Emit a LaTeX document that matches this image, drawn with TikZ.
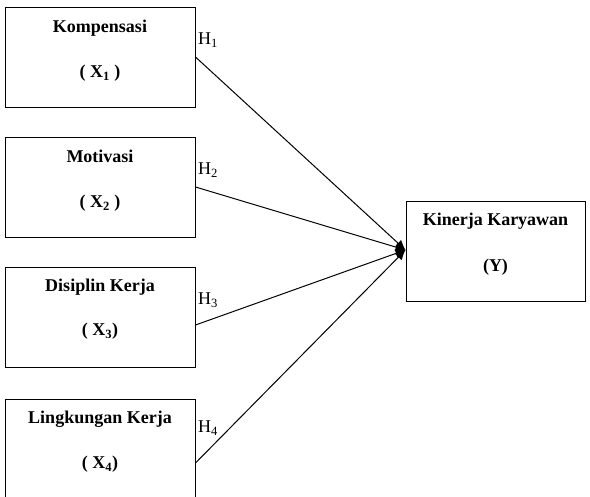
\documentclass[tikz,border=0pt]{standalone}
\usepackage{fontspec}
\setmainfont{Liberation Serif}
\usetikzlibrary{arrows.meta}

\begin{document}
\begin{tikzpicture}[
  x=1pt, y=-1pt,
  vbox/.style={rectangle, draw=black, line width=1pt, minimum width=190pt, minimum height=100pt, inner sep=0pt},
  vtext/.style={font=\fontsize{18}{20}\selectfont\bfseries, anchor=base, inner sep=0pt},
  hlabel/.style={font=\fontsize{18}{20}\selectfont, anchor=base west, inner sep=0pt},
  edge/.style={draw=black, line width=1pt, -{Latex[length=10pt,width=9pt]}}
]
  \useasboundingbox (0,0) rectangle (590,497);
  \clip (0,0) rectangle (590,497);

  % Variabel bebas
  \node[vbox] (x1) at (100,58) {};
  \node[vbox] (x2) at (100,188) {};
  \node[vbox] (x3) at (100,317.5) {};
  \node[vbox] (x4) at (100,450) {};

  \node[vtext] (t1) at ([yshift=-25pt]x1.north) {Kompensasi};
  \node[vtext] (s1) at ([yshift=-70pt]x1.north) {( X\textsubscript{1} )};
  \node[vtext] (t2) at ([yshift=-25pt]x2.north) {Motivasi};
  \node[vtext] (s2) at ([yshift=-70pt]x2.north) {( X\textsubscript{2} )};
  \node[vtext] (t3) at ([yshift=-25pt]x3.north) {Disiplin Kerja};
  \node[vtext] (s3) at ([yshift=-69pt]x3.north) {( X\textsubscript{3})};
  \node[vtext] (t4) at ([yshift=-24pt]x4.north) {Lingkungan Kerja};
  \node[vtext] (s4) at ([yshift=-69pt]x4.north) {( X\textsubscript{4})};

  % Variabel terikat
  \node[vbox, minimum width=179pt] (y) at (495.5,252) {};
  \node[vtext] (ty) at ([yshift=-24pt]y.north) {Kinerja Karyawan};
  \node[vtext] (sy) at ([yshift=-70pt]y.north) {(Y)};

  % Hipotesis
  \node[hlabel] (h1) at (198,45) {H\textsubscript{1}};
  \node[hlabel] (h2) at (198,175) {H\textsubscript{2}};
  \node[hlabel] (h3) at (198,305) {H\textsubscript{3}};
  \node[hlabel] (h4) at (198,433) {H\textsubscript{4}};

  % Pengaruh ke Y
  \draw[edge] ([yshift=1pt]x1.east) -- ([yshift=2pt]y.west);
  \draw[edge] ([yshift=1pt]x2.east) -- ([yshift=2pt]y.west);
  \draw[edge] ([yshift=-7.5pt]x3.east) -- ([yshift=2pt]y.west);
  \draw[edge] ([yshift=-13pt]x4.east) -- ([yshift=2pt]y.west);

\end{tikzpicture}
\end{document}
